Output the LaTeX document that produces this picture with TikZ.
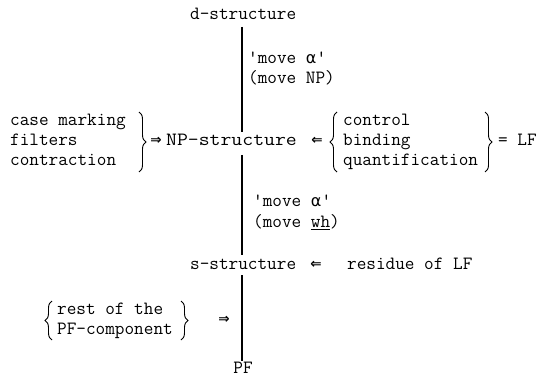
\documentclass[tikz,border=0pt]{standalone}
\usepackage{fontspec}
\usepackage{graphicx}
\newfontfamily\symfont{DejaVu Sans}
\usetikzlibrary{decorations.pathreplacing}
\newcommand{\alf}{{\symfont\fontsize{16}{18}\selectfont α}}
\begin{document}
\begin{tikzpicture}[x=1pt,y=1pt,
  txt/.style={font=\ttfamily\fontsize{18.7}{20}\selectfont\addfontfeature{FakeBold=0.6},
              inner sep=0pt, text height=12pt, text depth=3.5pt, anchor=west},
  arr/.style={font=\symfont\bfseries\fontsize{13.5}{14}\selectfont, inner sep=0pt, anchor=center},
  axisline/.style={line width=1.7pt},
  brc/.style={decorate, decoration={brace, amplitude=7pt}, line width=0.9pt}]
\useasboundingbox (0,0) rectangle (543,-377);

% main derivation column
\coordinate (ax) at (242,0);
\node[txt] (dstr) at (190,-15) {d-structure};
\node[txt] (mv1) at (248,-59) {\textquotesingle move \alf\textquotesingle};
\node[txt] (mvnp) at (248,-79) {(move NP)};
\node[txt] (np) at (166,-141) {\scalebox{1.13}[1]{NP-structure}};
\node[txt] (mv2) at (253,-202) {\textquotesingle move \alf\textquotesingle};
\node[txt] (mvwh) at (253,-223) {(move \underline{wh})};
\node[txt] (s) at (190,-265) {s-structure};
\node[txt,anchor=center] (pf) at (243,-369) {PF};

% conditions applying at NP-structure
\node[txt] (cm) at (10,-121) {case marking};
\node[txt] (filt) at (10,-141) {filters};
\node[txt] (contr) at (10,-161) {contraction};
\node[arr] (a1) at (156,-141) {⇒};

% LF rules
\node[arr] (a2) at (317,-141) {⇐};
\node[txt] (ctl) at (343,-121) {control};
\node[txt] (bind) at (343,-141) {binding};
\node[txt] (quant) at (343,-161) {quantification};
\node[txt] (lf) at (498,-141) {= LF};

% s-structure input
\node[arr] (a3) at (316,-265) {⇐};
\node[txt] (res) at (347,-265) {residue of LF};

% PF component
\node[txt] (rest) at (57,-310) {rest of the};
\node[txt] (pfc) at (57,-330) {PF-component};
\node[arr] (a4) at (224,-320) {⇒};

% braces
\draw[brc] (139,-112) -- (139,-172);
\draw[brc] (337,-172) -- (337,-112);
\draw[brc] (485,-112) -- (485,-172);
\draw[brc] (52,-340) -- (52,-301);
\draw[brc] (181,-301) -- (181,-340);

% vertical derivation lines
\draw[axisline] ([yshift=-4pt]dstr.south -| ax) -- ([yshift=1.25pt]np.north -| ax);
\draw[axisline] ([yshift=-6pt]np.south -| ax) -- ([yshift=2.25pt]s.north -| ax);
\draw[axisline] ([yshift=-2.25pt]s.south -| ax) -- (pf.north -| ax);
\end{tikzpicture}
\end{document}
